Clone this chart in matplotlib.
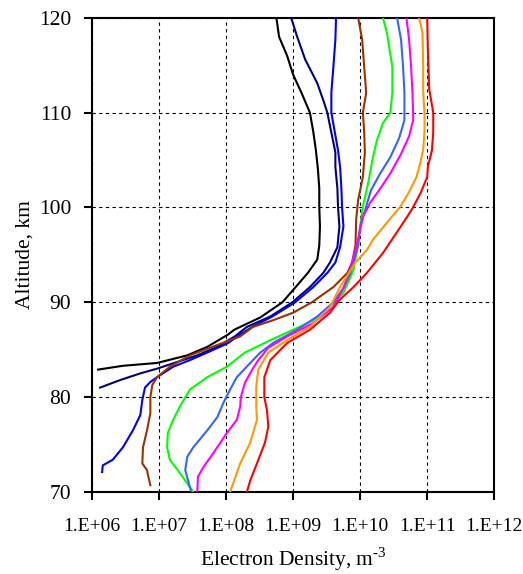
import matplotlib
matplotlib.use("Agg")
import matplotlib.pyplot as plt
import numpy as np
from matplotlib.ticker import FixedLocator, FuncFormatter

plt.rcParams['font.family'] = ['Liberation Serif', 'DejaVu Serif']
plt.rcParams['mathtext.fontset'] = 'custom'
plt.rcParams['mathtext.rm'] = 'Liberation Serif'

# Electron density profiles: altitude (km) and log10 of density (m^-3)
alt_black = [120, 118, 116, 114, 112, 110, 108, 106, 104, 102, 100, 98, 96, 94.5, 93.1, 91.3, 90, 88.4, 87.1, 86.6, 85.3, 84.4, 83.6, 83.3, 82.9]
log_black = [8.75, 8.79, 8.91, 9.00, 9.13, 9.25, 9.30, 9.34, 9.37, 9.39, 9.39, 9.40, 9.39, 9.36, 9.22, 9.00, 8.84, 8.51, 8.12, 8.03, 7.72, 7.42, 6.97, 6.46, 6.09]

alt_navy = [120, 118, 115.6, 113.1, 111.3, 110, 107.9, 105.8, 104.3, 102, 100, 98, 95.8, 94.2, 93.1, 91.6, 90, 88.5, 87.4, 86.4, 85.3, 84.4, 83.7, 83.0, 82.5, 81.8, 81.0]
log_navy = [8.97, 9.06, 9.18, 9.36, 9.45, 9.51, 9.57, 9.63, 9.63, 9.66, 9.67, 9.69, 9.66, 9.55, 9.45, 9.25, 8.99, 8.66, 8.31, 8.13, 7.87, 7.57, 7.27, 6.97, 6.72, 6.42, 6.12]

alt_blue = [120, 117.7, 114.8, 112.1, 110, 108.4, 106, 104.3, 102, 100, 98, 95.8, 94.2, 93.1, 91.6, 90, 88.5, 87.4, 86.6, 85.7, 84.7, 83.9, 83.2, 82.1, 81.6, 81.0, 79.7, 78.1, 76.5, 74.7, 73.4, 72.8, 72.1]
log_blue = [9.64, 9.63, 9.60, 9.57, 9.57, 9.61, 9.67, 9.70, 9.72, 9.73, 9.75, 9.70, 9.63, 9.51, 9.30, 9.03, 8.69, 8.39, 8.21, 8.03, 7.72, 7.46, 7.21, 6.97, 6.87, 6.79, 6.75, 6.72, 6.61, 6.46, 6.31, 6.16, 6.15]

alt_brown = [120, 117.7, 114.8, 112.1, 110, 108, 105.8, 103.2, 100.8, 98.7, 96, 94.2, 93.1, 91.6, 90.0, 88.9, 88.1, 87.4, 86.4, 85.5, 84.4, 83.2, 82.1, 81.3, 80.0, 78.3, 76.5, 74.7, 73.0, 72.3, 71.6, 70.7]
log_brown = [9.97, 10.03, 10.06, 10.09, 10.04, 10.06, 10.07, 10.04, 9.97, 9.94, 9.93, 9.88, 9.81, 9.60, 9.28, 9.00, 8.70, 8.40, 8.21, 7.87, 7.46, 7.16, 6.97, 6.90, 6.87, 6.87, 6.82, 6.76, 6.75, 6.82, 6.84, 6.87]

alt_green = [120, 118.4, 114.8, 112.1, 110, 108.9, 107.1, 105.3, 102.6, 100.1, 98, 95.8, 93.4, 91.0, 89.5, 88.1, 87.1, 86.0, 84.7, 83.2, 82.1, 80.8, 79.0, 77.6, 76.2, 74.7, 73.4, 72.0, 70.5, 70.0]
log_green = [10.34, 10.40, 10.48, 10.48, 10.45, 10.34, 10.25, 10.19, 10.12, 10.04, 10.00, 9.96, 9.90, 9.75, 9.55, 9.30, 9.00, 8.66, 8.28, 8.01, 7.72, 7.46, 7.31, 7.21, 7.13, 7.12, 7.16, 7.31, 7.46, 7.51]

alt_sky = [120, 117.7, 114.8, 112.1, 110, 109.2, 107.3, 105.3, 103.6, 101.8, 100.1, 98, 96, 93, 91.5, 90, 88.5, 87.1, 85.7, 84.7, 83.6, 82.1, 80.8, 79.4, 77.9, 76.5, 74.7, 73.7, 72.3, 70.5, 70.0]
log_sky = [10.55, 10.61, 10.64, 10.66, 10.66, 10.66, 10.58, 10.45, 10.30, 10.16, 10.09, 10.00, 9.97, 9.85, 9.75, 9.60, 9.36, 9.06, 8.70, 8.51, 8.36, 8.16, 8.06, 7.96, 7.87, 7.72, 7.51, 7.42, 7.39, 7.46, 7.48]

alt_magenta = [120, 117.7, 114.8, 112.1, 110, 109.2, 107.5, 105.5, 103.6, 102, 100.5, 99, 97.3, 95.5, 93.5, 91.5, 89.5, 87.8, 86.4, 85.2, 83.9, 82.9, 81.5, 80.0, 79.0, 77.6, 76.2, 74.1, 72.6, 71.6, 70.0]
log_magenta = [10.69, 10.73, 10.76, 10.78, 10.79, 10.79, 10.73, 10.60, 10.45, 10.30, 10.15, 10.04, 9.99, 9.93, 9.85, 9.75, 9.60, 9.30, 8.91, 8.63, 8.48, 8.39, 8.28, 8.22, 8.21, 8.16, 8.01, 7.81, 7.66, 7.58, 7.57]

alt_orange = [120, 118.4, 114.8, 112.1, 110, 108, 106.1, 104.8, 103.2, 101.5, 100.1, 98.4, 96.6, 95.5, 94.2, 91.6, 89.5, 87.4, 86.0, 84.7, 82.9, 81.1, 79.0, 77.6, 75.2, 73.0, 70.0]
log_orange = [10.88, 10.93, 10.94, 10.94, 10.96, 10.96, 10.94, 10.90, 10.84, 10.72, 10.60, 10.40, 10.19, 10.10, 9.93, 9.70, 9.55, 9.25, 8.91, 8.63, 8.48, 8.45, 8.45, 8.46, 8.36, 8.21, 8.06]

alt_red = [120, 116.6, 112.5, 110, 107.9, 106, 104.3, 103.2, 101.5, 99.9, 99.0, 97.3, 95.2, 93.1, 91.6, 90.3, 88.9, 87.1, 85.7, 83.9, 82.1, 80.0, 78.6, 76.9, 75.2, 73.0, 71.2, 70.0]
log_red = [11.00, 11.01, 11.03, 11.09, 11.09, 11.07, 11.01, 11.00, 10.90, 10.78, 10.70, 10.54, 10.34, 10.10, 9.90, 9.70, 9.55, 9.25, 8.91, 8.66, 8.57, 8.57, 8.61, 8.63, 8.58, 8.46, 8.36, 8.31]

profiles = [
    (alt_black, log_black, '#000000'),
    (alt_navy, log_navy, '#000080'),
    (alt_blue, log_blue, '#0000FF'),
    (alt_brown, log_brown, '#993300'),
    (alt_green, log_green, '#00FF00'),
    (alt_sky, log_sky, '#3366FF'),
    (alt_magenta, log_magenta, '#FF00FF'),
    (alt_orange, log_orange, '#FF9900'),
    (alt_red, log_red, '#FF0000'),
]

x_ticks = [1e6, 1e7, 1e8, 1e9, 1e10, 1e11, 1e12]
y_ticks = [70, 80, 90, 100, 110, 120]

fig = plt.figure(figsize=(5.23, 5.74), dpi=100)
ax = fig.add_axes([0.176, 0.143, 0.769, 0.826])

for alts, logs, color in profiles:
    ax.plot(10.0 ** np.array(logs), alts, color=color, lw=1.5, zorder=3)

ax.set_xscale('log')
ax.set_xlim(1e6, 1e12)
ax.set_ylim(70, 120)
ax.xaxis.set_major_locator(FixedLocator(x_ticks))
ax.xaxis.set_minor_locator(FixedLocator([]))
ax.yaxis.set_major_locator(FixedLocator(y_ticks))
ax.xaxis.set_major_formatter(FuncFormatter(lambda v, p: "1.E+%02d" % int(round(np.log10(v)))))

ax.grid(True, color='black', linestyle=(0, (3, 3)), linewidth=0.8, zorder=1)
for s in ax.spines.values():
    s.set_linewidth(1.5)
ax.tick_params(axis='both', direction='out', length=6, width=1.5, colors='black')
ax.tick_params(axis='x', labelsize=14, pad=13)
ax.tick_params(axis='y', labelsize=15.5, pad=9)

ax.set_xlabel(r'Electron Density, m$^{\text{-3}}$', fontsize=15.5, labelpad=7)
ax.set_ylabel('Altitude, km', fontsize=15.5, labelpad=3)

fig.savefig('out.png', dpi=100)
